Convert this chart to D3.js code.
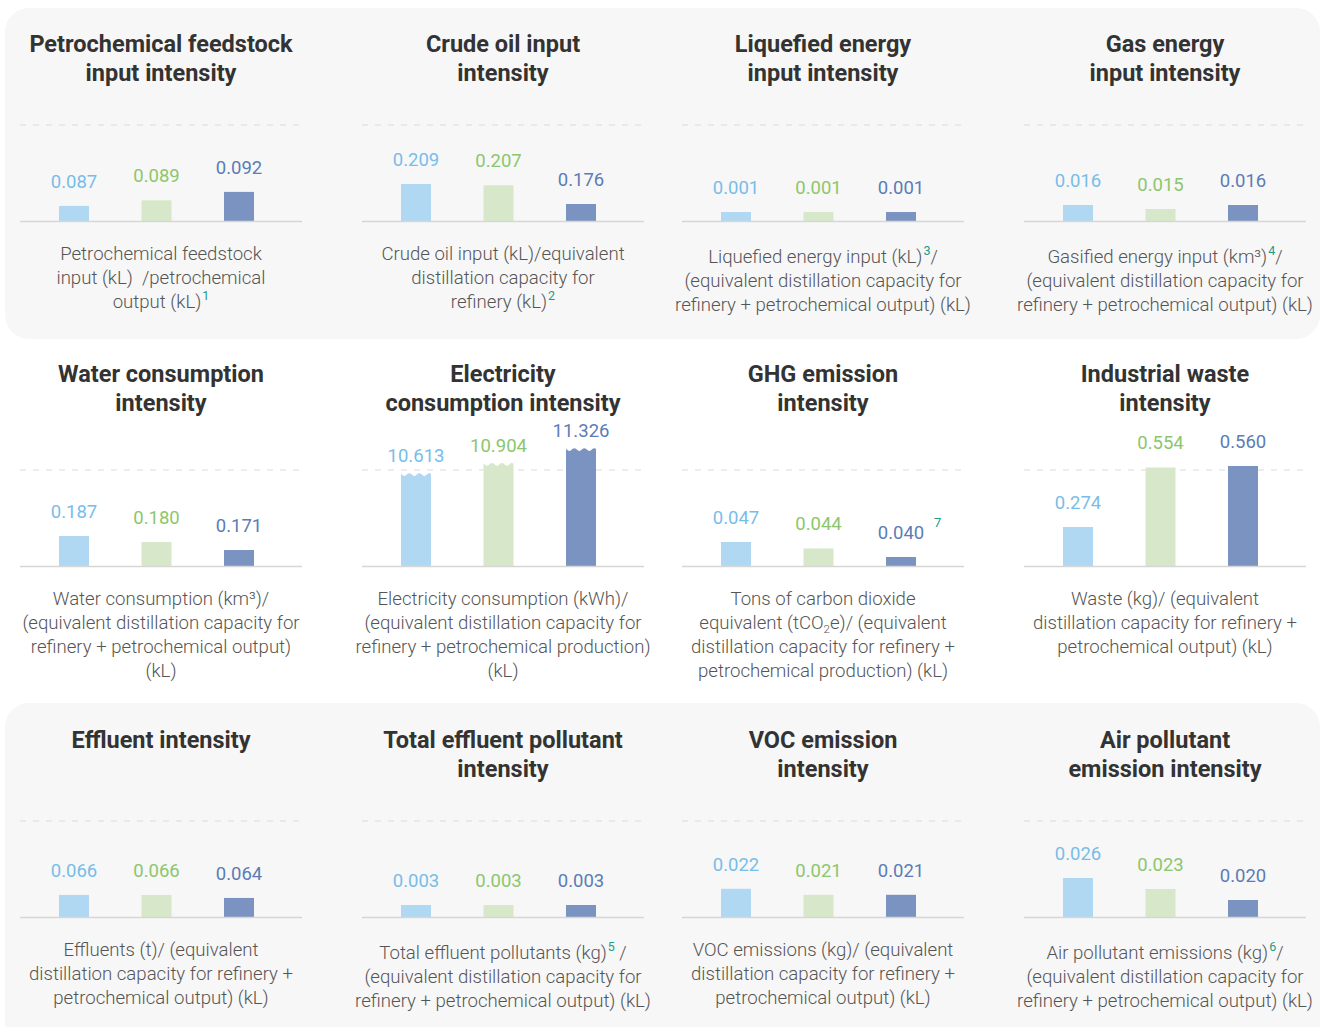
<!DOCTYPE html>
<html>
<head>
<meta charset="utf-8">
<script src="https://cdn.jsdelivr.net/npm/d3@7"></script>
<style>
  body { margin: 0; background: #fff; }
  svg { display: block; font-family: Roboto, "Noto Sans", sans-serif; }
  text { white-space: pre; }
</style>
</head>
<body>
<svg id="chart" width="1323" height="1027"></svg>
<script>
// Three reporting periods, drawn left to right in every panel
const periods = ["P1", "P2", "P3"];

// Indicator values per period
const feedstockInput   = [0.087, 0.089, 0.092];
const crudeOilInput    = [0.209, 0.207, 0.176];
const liquefiedEnergy  = [0.001, 0.001, 0.001];
const gasEnergy        = [0.016, 0.015, 0.016];
const waterConsumption = [0.187, 0.180, 0.171];
const electricity      = [10.613, 10.904, 11.326];
const ghgEmission      = [0.047, 0.044, 0.040];
const industrialWaste  = [0.274, 0.554, 0.560];
const effluent         = [0.066, 0.066, 0.064];
const effluentPollut   = [0.003, 0.003, 0.003];
const vocEmission      = [0.022, 0.021, 0.021];
const airPollutant     = [0.026, 0.023, 0.020];

const seriesValues = [
  feedstockInput, crudeOilInput, liquefiedEnergy, gasEnergy,
  waterConsumption, electricity, ghgEmission, industrialWaste,
  effluent, effluentPollut, vocEmission, airPollutant
];

// Panel titles (line breaks as drawn)
const titles = [
  ["Petrochemical feedstock", "input intensity"],
  ["Crude oil input", "intensity"],
  ["Liquefied energy", "input intensity"],
  ["Gas energy", "input intensity"],
  ["Water consumption", "intensity"],
  ["Electricity", "consumption intensity"],
  ["GHG emission", "intensity"],
  ["Industrial waste", "intensity"],
  ["Effluent intensity"],
  ["Total effluent pollutant", "intensity"],
  ["VOC emission", "intensity"],
  ["Air pollutant", "emission intensity"]
];

// Unit definitions under each panel; {n} = footnote mark, [n] = subscript
const definitions = [
  ["Petrochemical feedstock", "input (kL)  /petrochemical", "output (kL){1}"],
  ["Crude oil input (kL)/equivalent", "distillation capacity for", "refinery (kL){2}"],
  ["Liquefied energy input (kL){3}/", "(equivalent distillation capacity for", "refinery + petrochemical output) (kL)"],
  ["Gasified energy input (km³){4}/", "(equivalent distillation capacity for", "refinery + petrochemical output) (kL)"],
  ["Water consumption (km³)/", "(equivalent distillation capacity for", "refinery + petrochemical output)", "(kL)"],
  ["Electricity consumption (kWh)/", "(equivalent distillation capacity for", "refinery + petrochemical production)", "(kL)"],
  ["Tons of carbon dioxide", "equivalent (tCO[2]e)/ (equivalent", "distillation capacity for refinery +", "petrochemical production) (kL)"],
  ["Waste (kg)/ (equivalent", "distillation capacity for refinery +", "petrochemical output) (kL)"],
  ["Effluents (t)/ (equivalent", "distillation capacity for refinery +", "petrochemical output) (kL)"],
  ["Total effluent pollutants (kg){5} /", "(equivalent distillation capacity for", "refinery + petrochemical output) (kL)"],
  ["VOC emissions (kg)/ (equivalent", "distillation capacity for refinery +", "petrochemical output) (kL)"],
  ["Air pollutant emissions (kg){6}/", "(equivalent distillation capacity for", "refinery + petrochemical output) (kL)"]
];

// Footnote mark attached to a value label: [panel, bar, mark]
const valueNotes = [[6, 2, "7"]];

// Truncated value axis per panel: value at the baseline and at the dashed guide
const axisFloor   = [0.0816, 0.148, 0, 0.012, 0.1527, 7.98, 0.0358, 0.091, 0.0513, 0, 0.0173, 0.01536];
const axisCeiling = [0.1159, 0.306, 0.0107, 0.036, 0.2624, 10.72, 0.0806, 0.5417, 0.1153, 0.024, 0.0333, 0.04154];

// Panels whose bars run past the guide are drawn with a torn top
const brokenPanels = [5];

// ---------- layout & style ----------
const colX = [20, 362, 682, 1024];
const panelW = 282;
const rowBase = [221, 566, 917];
const plotH = 96;
const titleY = [52, 382, 748];
const titleLH = 29;
const defLH = 24;
const barW = 30;

const barColors   = ["#b1d8f3", "#d6e8c9", "#7b93c1"];
const labelColors = ["#78bde9", "#8cc66c", "#5b7cb6"];
const noteColor = "#1f9a88";

const svg = d3.select("#chart");

// Shaded bands behind the first and last rows
svg.append("rect").attr("x", 5).attr("y", 8).attr("width", 1315).attr("height", 331)
  .attr("rx", 24).attr("fill", "#f7f7f7");
svg.append("rect").attr("x", 5).attr("y", 703).attr("width", 1315).attr("height", 360)
  .attr("rx", 24).attr("fill", "#f7f7f7");

const xBar = d3.scalePoint().domain(periods).range([54, 219]);

function richLine(textSel, str) {
  const parts = str.split(/(\{[^}]+\}|\[[^\]]+\])/).filter(s => s.length);
  let shift = 0;
  parts.forEach(p => {
    if (p.startsWith("{")) {
      textSel.append("tspan").text(p.slice(1, -1))
        .attr("font-size", 12.5).attr("fill", noteColor).attr("font-weight", 400)
        .attr("dx", 1).attr("dy", -8 - shift);
      shift = -8;
    } else if (p.startsWith("[")) {
      textSel.append("tspan").text(p.slice(1, -1))
        .attr("font-size", 11.5).attr("dy", 4 - shift);
      shift = 4;
    } else {
      const t = textSel.append("tspan").text(p);
      if (shift !== 0) { t.attr("dy", -shift); shift = 0; }
    }
  });
}

function tornTopPath(x0, yTop, yBase, w) {
  const waves = 3, amp = 1.6, seg = w / waves;
  let d = `M${x0},${yBase}L${x0},${yTop}`;
  for (let i = 0; i < waves; i++) {
    const a = x0 + i * seg;
    d += `Q${a + seg / 4},${yTop + 2 * amp} ${a + seg / 2},${yTop + amp}`;
    d += `Q${a + 3 * seg / 4},${yTop - amp} ${a + seg},${yTop}`;
  }
  d += `L${x0 + w},${yBase}Z`;
  return d;
}

seriesValues.forEach((vals, i) => {
  const row = Math.floor(i / 4), col = i % 4;
  const x0 = colX[col];
  const base = rowBase[row];
  const cx = x0 + panelW / 2;
  const g = svg.append("g");

  // title
  titles[i].forEach((line, k) => {
    g.append("text").attr("x", cx).attr("y", titleY[row] + k * titleLH)
      .attr("text-anchor", "middle").attr("font-size", 23.5).attr("font-weight", 700)
      .attr("fill", "#333").text(line);
  });

  const y = d3.scaleLinear().domain([axisFloor[i], axisCeiling[i]]).range([base, base - plotH]);

  // dashed guide and baseline
  g.append("line").attr("x1", x0).attr("x2", x0 + panelW)
    .attr("y1", y(axisCeiling[i])).attr("y2", y(axisCeiling[i]))
    .attr("stroke", "#dcdcdc").attr("stroke-width", 1.2).attr("stroke-dasharray", "6,7");

  const broken = brokenPanels.includes(i);
  const bars = g.selectAll(".bar").data(vals).enter();
  bars.append("path")
    .attr("fill", (d, k) => barColors[k])
    .attr("d", (d, k) => {
      const bx = x0 + xBar(periods[k]) - barW / 2;
      const top = y(d);
      return broken ? tornTopPath(bx, top, base, barW)
                    : `M${bx},${base}V${top}H${bx + barW}V${base}Z`;
    });

  g.append("line").attr("x1", x0).attr("x2", x0 + panelW)
    .attr("y1", base + 0.5).attr("y2", base + 0.5)
    .attr("stroke", "#d6d6d6").attr("stroke-width", 1.5);

  // value labels
  vals.forEach((d, k) => {
    g.append("text")
      .attr("x", x0 + xBar(periods[k])).attr("y", y(d) - (broken ? 12 : 18))
      .attr("text-anchor", "middle").attr("font-size", 18.5).attr("font-weight", 400)
      .attr("fill", labelColors[k]).text(d3.format(".3f")(d));
    valueNotes.filter(n => n[0] === i && n[1] === k).forEach(n => {
      g.append("text")
        .attr("x", x0 + xBar(periods[k]) + 33).attr("y", y(d) - 30)
        .attr("font-size", 13).attr("fill", noteColor).text(n[2]);
    });
  });

  // unit definition
  const lines = definitions[i];
  const shiftDown = /\{/.test(lines[0]) ? 3 : 0;
  lines.forEach((line, k) => {
    const t = g.append("text").attr("x", cx).attr("y", base + 39 + shiftDown + k * defLH)
      .attr("text-anchor", "middle").attr("font-size", 18.6).attr("font-weight", 300)
      .attr("fill", "#555");
    richLine(t, line);
  });
});
</script>
</body>
</html>
